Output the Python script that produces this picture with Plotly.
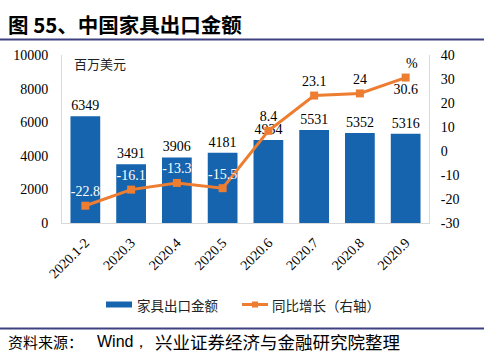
import plotly.graph_objects as go

categories = ["2020.1-2", "2020.3", "2020.4", "2020.5", "2020.6", "2020.7", "2020.8", "2020.9"]
export_values = [6349, 3491, 3906, 4181, 4934, 5531, 5352, 5316]
yoy_growth = [-22.8, -16.1, -13.3, -15.5, 8.4, 23.1, 24, 30.6]
yoy_labels = ["-22.8", "-16.1", "-13.3", "-15.5", "8.4", "23.1", "24", "30.6"]
left_ticks = [0, 2000, 4000, 6000, 8000, 10000]
left_tick_text = ["0", "2000", "4000", "6000", "8000", "10000"]
right_ticks = [-30, -20, -10, 0, 10, 20, 30, 40]
right_tick_text = ["-30", "-20", "-10", "0", "10", "20", "30", "40"]

W, H = 484, 356
L, R, T, B = 62, 429, 55, 223  # plot area in pixels
PW, PH = R - L, B - T

def px(x):
    return (x - L) / PW

def py(y):
    return (B - y) / PH

BLUE = "#1664AE"
ORANGE = "#ED7D31"
SERIF = "Liberation Serif, Times New Roman, serif"
CJK = "Noto Sans CJK SC"

fig = go.Figure()
fig.add_trace(go.Bar(
    x=categories, y=export_values, name="家具出口金额",
    marker=dict(color=BLUE, line=dict(width=0)),
    text=[str(v) for v in export_values], textposition="outside",
    textfont=dict(family=SERIF, size=14, color="#000000"),
    cliponaxis=False, yaxis="y",
))
label_colors = ["#FFFFFF" if v < 0 else "#000000" for v in yoy_growth]
label_pos = ["top center"] * (len(yoy_growth) - 1) + ["bottom center"]
fig.add_trace(go.Scatter(
    x=categories, y=yoy_growth, name="同比增长（右轴）", yaxis="y2",
    mode="lines+markers+text",
    line=dict(color=ORANGE, width=3),
    marker=dict(symbol="square", size=8, color=ORANGE),
    text=yoy_labels, textposition=label_pos,
    textfont=dict(family=SERIF, size=14, color=label_colors),
    cliponaxis=False,
))

axis_font = dict(family=SERIF, size=14, color="#000000")
fig.update_layout(
    width=W, height=H,
    margin=dict(l=L, r=W - R, t=T, b=H - B),
    paper_bgcolor="white", plot_bgcolor="white",
    showlegend=False,
    bargap=0.35,
    xaxis=dict(showline=True, linecolor="#D9D9D9", linewidth=1, ticks="",
               tickangle=-45, tickfont=axis_font, showgrid=False, zeroline=False,
               ticklabelstandoff=5),
    yaxis=dict(range=[0, 10000], tickvals=left_ticks, ticktext=left_tick_text,
               showline=True, linecolor="#D9D9D9",
               linewidth=1, ticks="", tickfont=axis_font, showgrid=False,
               zeroline=False, ticklabelstandoff=10),
    yaxis2=dict(range=[-30, 40], tickvals=right_ticks, ticktext=right_tick_text,
                overlaying="y", side="right",
                showline=True, linecolor="#D9D9D9", linewidth=1, ticks="",
                tickfont=axis_font, showgrid=False, zeroline=False,
                ticklabelstandoff=8),
    title=dict(text="<b>图 55、中国家具出口金额</b>", x=8 / W, xanchor="left",
               xref="container", y=1 - 25.5 / H, yanchor="middle", yref="container",
               font=dict(family=CJK, size=20.5, color="#000000")),
)

shapes = [
    dict(type="line", xref="paper", yref="paper", x0=px(0), x1=px(W), y0=py(39.5), y1=py(39.5),
         line=dict(color="#3E4180", width=2)),
    dict(type="line", xref="paper", yref="paper", x0=px(0), x1=px(W), y0=py(328.5), y1=py(328.5),
         line=dict(color="#3E4180", width=2)),
    # legend symbols
    dict(type="rect", xref="paper", yref="paper", x0=px(106), x1=px(132), y0=py(307.5), y1=py(301.5),
         fillcolor=BLUE, line=dict(width=0)),
    dict(type="line", xref="paper", yref="paper", x0=px(242), x1=px(268), y0=py(304.5), y1=py(304.5),
         line=dict(color=ORANGE, width=3)),
    dict(type="rect", xref="paper", yref="paper", x0=px(252), x1=px(258), y0=py(307.5), y1=py(301.5),
         fillcolor=ORANGE, line=dict(width=0)),
]
fig.update_layout(shapes=shapes)

def ann(text, x, y, size, family=CJK, xanchor="left", color="#000000"):
    fig.add_annotation(text=text, xref="paper", yref="paper", x=px(x), y=py(y),
                       xanchor=xanchor, yanchor="middle", showarrow=False,
                       font=dict(family=family, size=size, color=color))

ann("百万美元", 72, 63, 13, color="#222222")
ann("%", 412, 63, 14, family=SERIF, xanchor="center")
ann("家具出口金额", 135, 304.5, 13.5, color="#222222")
ann("同比增长（右轴）", 270, 304.5, 13.5, color="#222222")
ann("资料来源：", 6, 341, 15)
ann("Wind，", 95, 341, 16, family="Liberation Sans, Arial, sans-serif")
ann("兴业证券经济与金融研究院整理", 153, 341, 17.5)

fig.write_html("out.html", config={"displayModeBar": False},
               post_script="document.body.style.margin='0';document.body.style.overflow='hidden';")
